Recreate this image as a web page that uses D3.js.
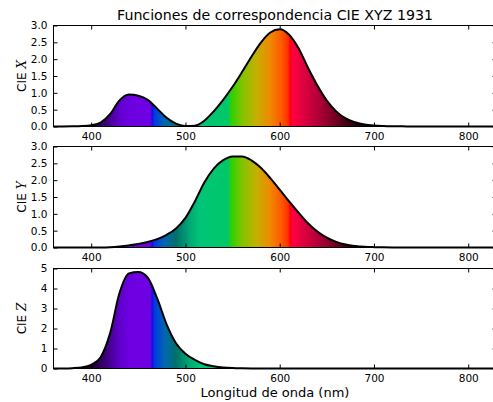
<!DOCTYPE html>
<html>
<head>
<meta charset="utf-8">
<script src="https://cdn.jsdelivr.net/npm/d3@7"></script>
<style>
	body { margin: 0; background: #fff; }
	text { font-family: "DejaVu Sans", sans-serif; fill: #000; }
</style>
</head>
<body>
<svg id="chart" width="493" height="402"></svg>
<script>
const WAVELENGTHS = [360, 370, 380, 390, 400, 410, 420, 430, 440, 450, 460, 470, 480, 490, 500, 510,
	520, 530, 540, 550, 560, 570, 580, 590, 600, 610, 620, 630, 640, 650, 660, 670, 680, 690, 700,
	710, 720, 730, 740, 750, 760, 770, 780, 790, 800, 810, 820, 830];

const CIE_X = [0.000, 0.001, 0.004, 0.012, 0.039, 0.118, 0.366, 0.772, 0.947, 0.914, 0.791, 0.531,
	0.260, 0.087, 0.013, 0.025, 0.172, 0.450, 0.790, 1.179, 1.617, 2.073, 2.492, 2.792, 2.889, 2.727,
	2.324, 1.747, 1.218, 0.771, 0.449, 0.238, 0.127, 0.062, 0.031, 0.016, 0.008, 0.004, 0.002, 0.001,
	0.000, 0.000, 0.000, 0.000, 0.000, 0.000, 0.000, 0.000];

const CIE_Y = [0.000, 0.000, 0.000, 0.000, 0.001, 0.003, 0.011, 0.032, 0.063, 0.103, 0.163, 0.247,
	0.378, 0.566, 0.879, 1.368, 1.931, 2.345, 2.595, 2.706, 2.706, 2.589, 2.366, 2.059, 1.716, 1.368,
	1.036, 0.721, 0.476, 0.291, 0.166, 0.087, 0.046, 0.022, 0.011, 0.006, 0.003, 0.001, 0.001, 0.000,
	0.000, 0.000, 0.000, 0.000, 0.000, 0.000, 0.000, 0.000];

const CIE_Z = [0.002, 0.005, 0.018, 0.055, 0.185, 0.564, 1.756, 3.769, 4.752, 4.820, 4.540, 3.502,
	2.211, 1.265, 0.740, 0.430, 0.213, 0.115, 0.055, 0.024, 0.011, 0.006, 0.004, 0.003, 0.002, 0.001,
	0.000, 0.000, 0.000, 0.000, 0.000, 0.000, 0.000, 0.000, 0.000, 0.000, 0.000, 0.000, 0.000, 0.000,
	0.000, 0.000, 0.000, 0.000, 0.000, 0.000, 0.000, 0.000];

const X_TICKS = [400, 500, 600, 700, 800];
const XY_TICKS = [0.0, 0.5, 1.0, 1.5, 2.0, 2.5, 3.0];
const Z_TICKS = [0, 1, 2, 3, 4, 5];
const PANEL_NAMES = ['X', 'Y', 'Z'];

const TITLE = 'Funciones de correspondencia CIE XYZ 1931';
const X_LABEL = 'Longitud de onda (nm)';

// colours of the spectrum under the curves (wavelength, colour)
const SPECTRUM = [
	[360, '#000000'], [385, '#050008'], [400, '#1c0034'], [415, '#3c0078'], [430, '#6000cc'],
	[440, '#6c00e0'], [462, '#7000e4'], [465, '#1a10e0'], [467, '#0038e0'], [478, '#0068b0'],
	[490, '#00706a'], [505, '#00aa74'], [515, '#00c478'], [545, '#00c868'], [549, '#30d000'],
	[560, '#80c400'], [575, '#c4b000'], [590, '#f08800'], [602, '#ff5800'], [609, '#ff3000'],
	[611, '#ff0010'], [614, '#ff0040'], [625, '#e00040'], [640, '#b40038'], [655, '#800028'],
	[670, '#480014'], [685, '#180004'], [700, '#000000'], [830, '#000000']
];

const svg = d3.select('#chart');

const x = d3.scaleLinear()
	.domain([360, 830])
	.range([53.5, 496.5]);

const panels = [
	{ name: PANEL_NAMES[0], values: CIE_X, ticks: XY_TICKS, max: 3, top: 25.5, bottom: 126.5, fmt: d3.format('.1f') },
	{ name: PANEL_NAMES[1], values: CIE_Y, ticks: XY_TICKS, max: 3, top: 146.5, bottom: 247.5, fmt: d3.format('.1f') },
	{ name: PANEL_NAMES[2], values: CIE_Z, ticks: Z_TICKS, max: 5, top: 268.5, bottom: 368.5, fmt: d3.format('d') }
];

// horizontal gradient shared by the three fills
const grad = svg.append('defs').append('linearGradient')
	.attr('id', 'spectrum')
	.attr('gradientUnits', 'userSpaceOnUse')
	.attr('x1', x(360)).attr('x2', x(830))
	.attr('y1', 0).attr('y2', 0);

grad.selectAll('stop')
	.data(SPECTRUM)
	.enter().append('stop')
	.attr('offset', d => (d[0] - 360) / (830 - 360))
	.attr('stop-color', d => d[1]);

panels.forEach(p => {
	const y = d3.scaleLinear()
		.domain([0, p.max])
		.range([p.bottom, p.top]);

	const data = WAVELENGTHS.map((w, i) => ({ w: w, v: p.values[i] }));
	const g = svg.append('g');

	const area = d3.area()
		.x(d => x(d.w))
		.y0(y(0))
		.y1(d => y(d.v))
		.curve(d3.curveMonotoneX);

	const line = d3.line()
		.x(d => x(d.w))
		.y(d => y(d.v))
		.curve(d3.curveMonotoneX);

	g.append('path')
		.datum(data)
		.attr('d', area)
		.attr('fill', 'url(#spectrum)');

	// ticks inside the frame, on all four sides
	g.append('g')
		.attr('transform', `translate(0,${p.bottom})`)
		.call(d3.axisBottom(x).tickValues(X_TICKS).tickSize(-4).tickPadding(6).tickFormat(d3.format('d')))
		.call(a => a.select('.domain').remove());
	g.append('g')
		.attr('transform', `translate(0,${p.top})`)
		.call(d3.axisTop(x).tickValues(X_TICKS).tickSize(-4).tickFormat(''))
		.call(a => a.select('.domain').remove());
	g.append('g')
		.attr('transform', `translate(${x.range()[0]},0)`)
		.call(d3.axisLeft(y).tickValues(p.ticks).tickSize(-4).tickPadding(6).tickFormat(p.fmt))
		.call(a => a.select('.domain').remove());
	g.append('g')
		.attr('transform', `translate(${x.range()[1]},0)`)
		.call(d3.axisRight(y).tickValues(p.ticks).tickSize(-4).tickFormat(''))
		.call(a => a.select('.domain').remove());

	g.selectAll('.tick line').attr('stroke', '#000');
	g.selectAll('.tick text')
		.attr('font-family', '"DejaVu Sans", sans-serif')
		.attr('font-size', 10.5)
		.attr('fill', '#000');

	g.append('rect')
		.attr('x', x.range()[0])
		.attr('y', p.top)
		.attr('width', x.range()[1] - x.range()[0])
		.attr('height', p.bottom - p.top)
		.attr('fill', 'none')
		.attr('stroke', '#000')
		.attr('stroke-width', 1);

	g.append('path')
		.datum(data)
		.attr('d', line)
		.attr('fill', 'none')
		.attr('stroke', '#000')
		.attr('stroke-width', 2)
		.attr('stroke-linejoin', 'round');

	// y label: "CIE" + italic letter
	const lbl = g.append('text')
		.attr('transform', `translate(26,${(p.top + p.bottom) / 2}) rotate(-90)`)
		.attr('text-anchor', 'middle')
		.attr('font-size', 12);
	lbl.append('tspan').text('CIE ');
	lbl.append('tspan').attr('font-style', 'italic').attr('font-family', '"DejaVu Serif", serif').text(p.name);
});

svg.append('text')
	.attr('x', (x.range()[0] + x.range()[1]) / 2)
	.attr('y', 20)
	.attr('text-anchor', 'middle')
	.attr('font-size', 14.2)
	.text(TITLE);

svg.append('text')
	.attr('x', (x.range()[0] + x.range()[1]) / 2)
	.attr('y', 397)
	.attr('text-anchor', 'middle')
	.attr('font-size', 13)
	.text(X_LABEL);
</script>
</body>
</html>
